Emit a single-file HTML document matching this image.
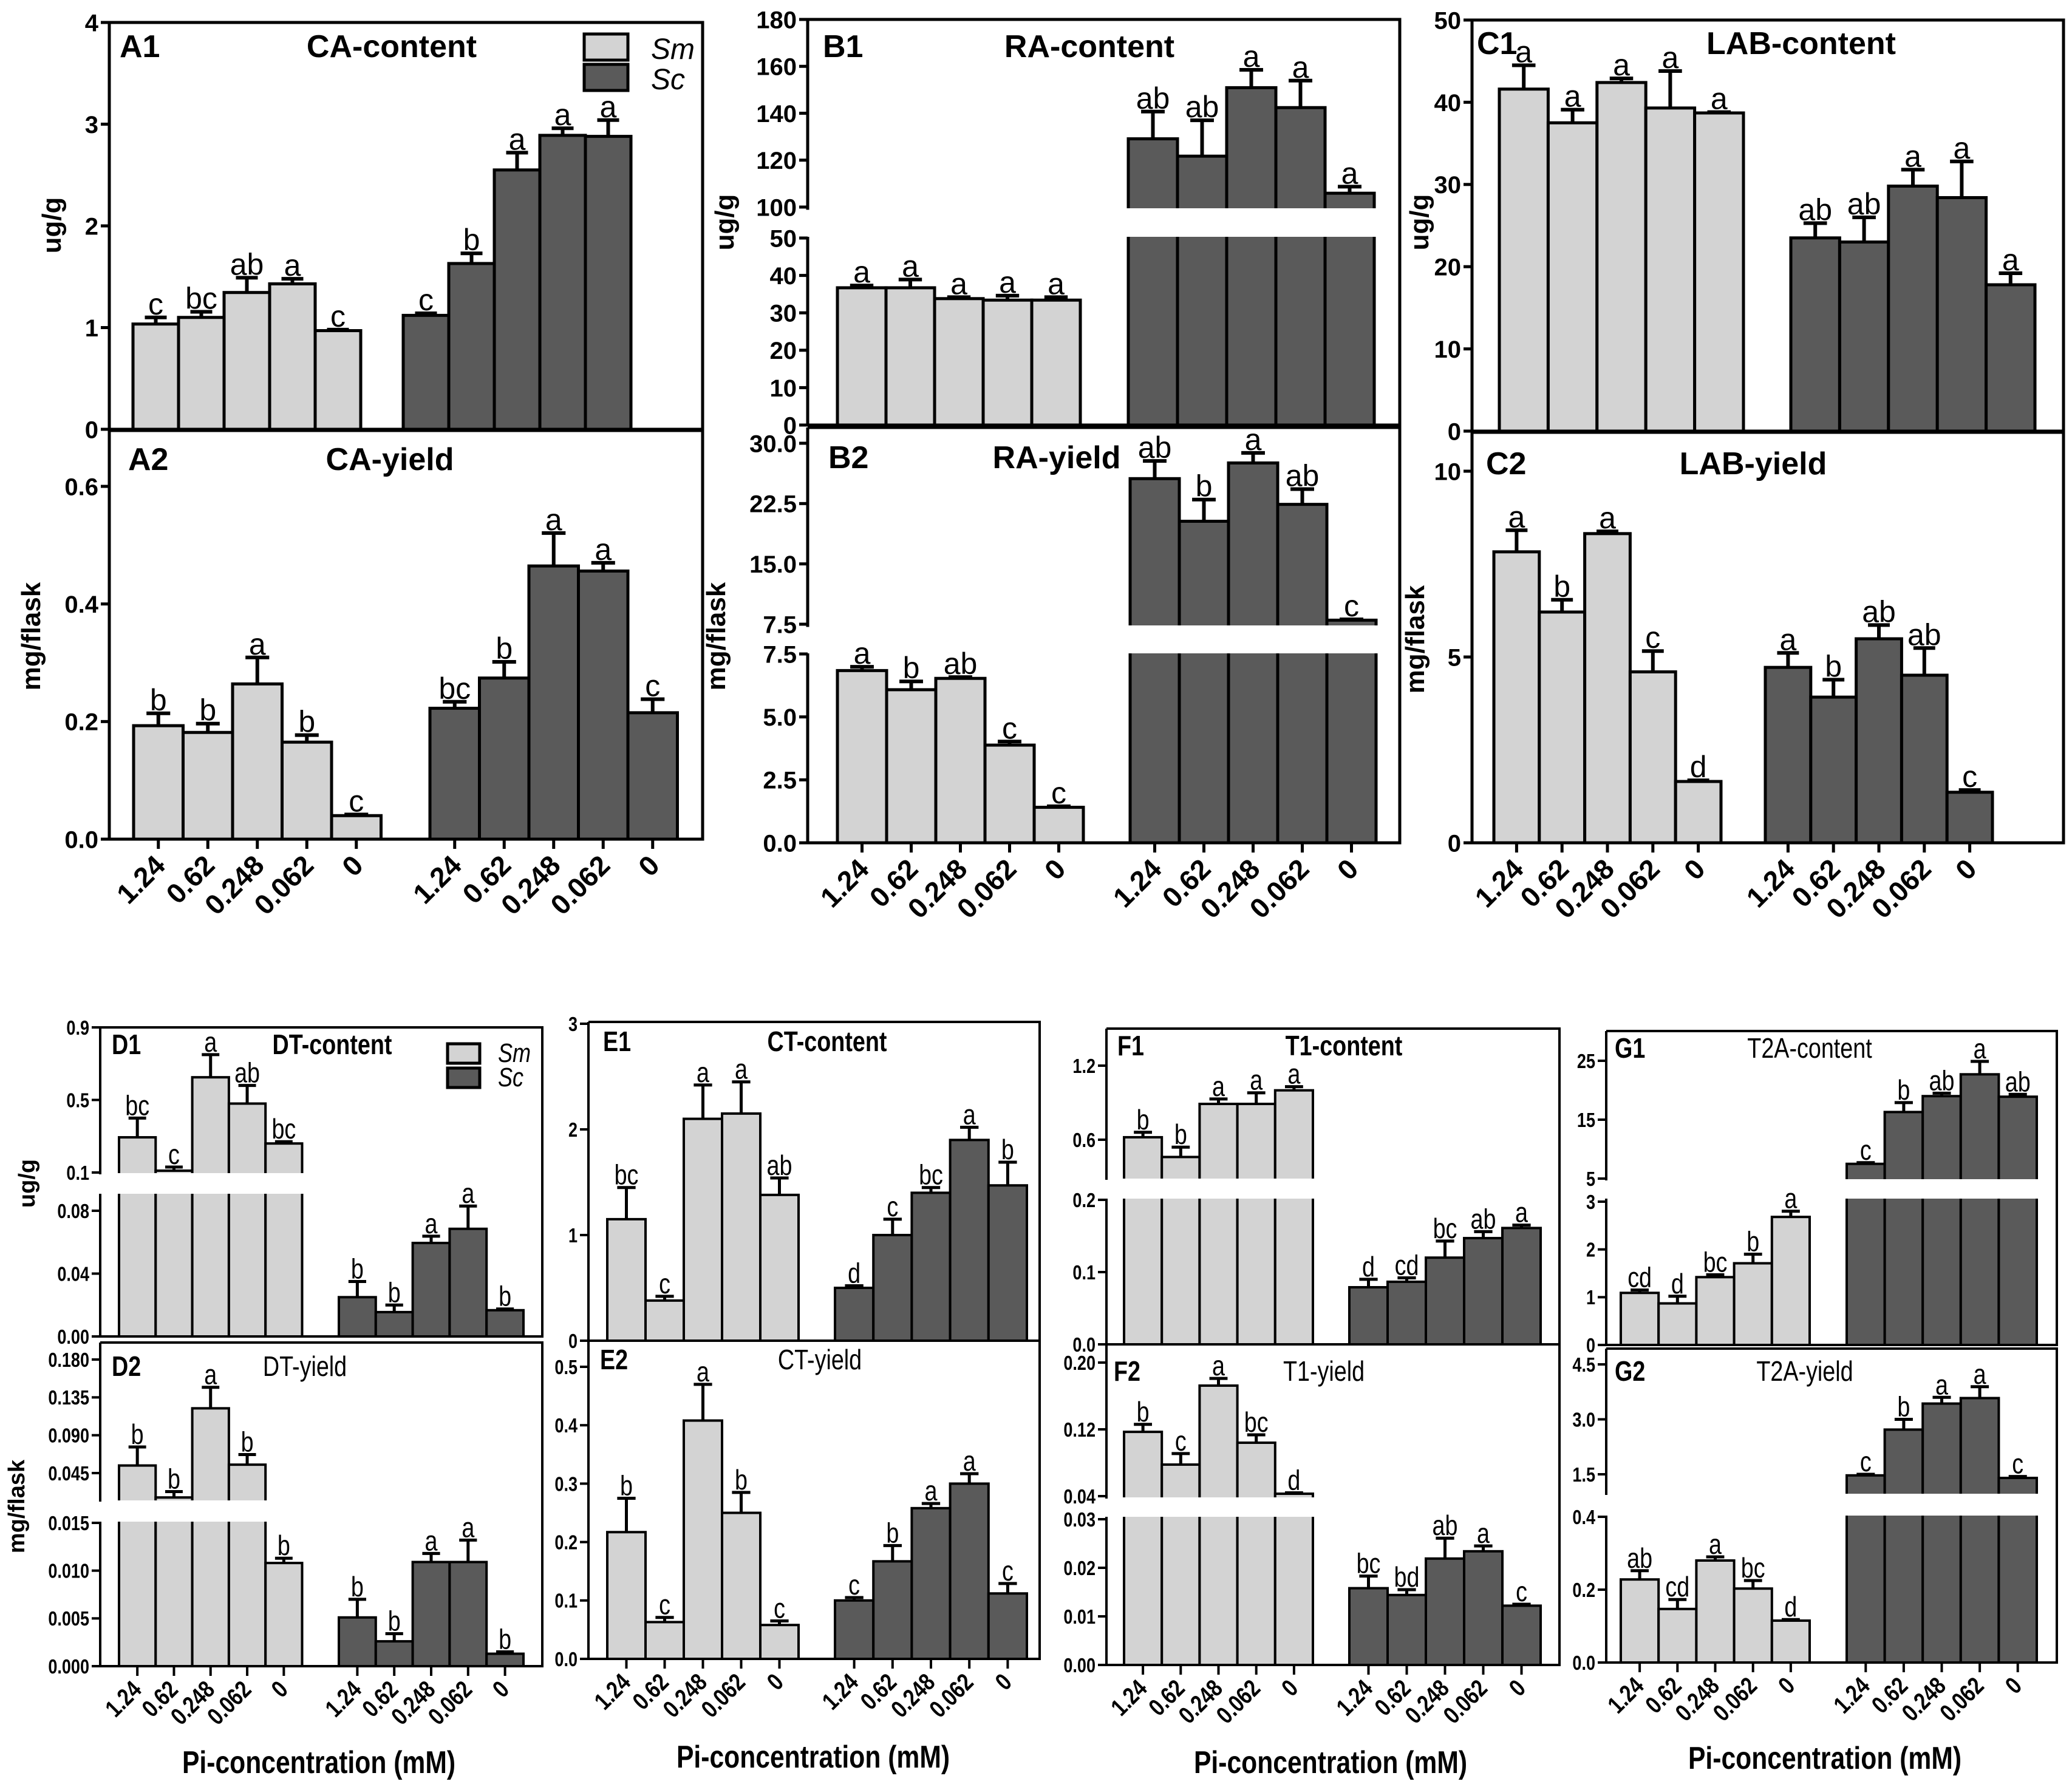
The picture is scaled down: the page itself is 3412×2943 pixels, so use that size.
<!DOCTYPE html>
<html><head><meta charset="utf-8"><style>html,body{margin:0;padding:0;background:#fff}svg{display:block}</style></head>
<body>
<svg id="fig" xmlns="http://www.w3.org/2000/svg" width="3412" height="2943" viewBox="0 0 3412 2943">
<rect x="0" y="0" width="3412" height="2943" fill="#fff"/>
</svg>
<script>
const categories = ["1.24","0.62","0.248","0.062","0"];
const A1_sm=[1.035,1.10,1.345,1.43,0.97], A1_smErr=[.065,.055,.145,.05,.01], A1_sc=[1.12,1.63,2.55,2.89,2.88], A1_scErr=[.02,.10,.17,.07,.16];
const A1_smL=["c","bc","ab","a","c"], A1_scL=["c","b","a","a","a"];
const A2_sm=[.193,.1815,.264,.165,.04], A2_smErr=[.021,.015,.045,.012,.002], A2_sc=[.2226,.274,.4646,.456,.215], A2_scErr=[.011,.0275,.056,.014,.023];
const A2_smL=["b","b","a","b","c"], A2_scL=["bc","b","a","a","c"];
const B1_sm=[36.7,36.7,33.8,33.4,33.4], B1_smErr=[.6,2.2,.4,1.2,.8], B1_sc=[129.1,121.7,150.9,142.4,105.9], B1_scErr=[11.6,15.3,7.6,11.5,2.8];
const B1_smL=["a","a","a","a","a"], B1_scL=["ab","ab","a","a","a"];
const B2_sm=[6.84,6.08,6.53,3.88,1.41], B2_smErr=[.15,.33,.05,.14,.04], B2_sc=[25.6,20.3,27.55,22.4,8.0], B2_scErr=[2.2,2.7,1.25,1.9,.1];
const B2_smL=["a","b","ab","c","c"], B2_scL=["ab","b","a","ab","c"];
const C1_sm=[41.6,37.5,42.4,39.3,38.7], C1_smErr=[2.9,1.6,.5,4.5,.1], C1_sc=[23.5,23,29.8,28.4,17.8], C1_scErr=[1.8,3,2,4.4,1.4];
const C1_smL=["a","a","a","a","a"], C1_scL=["ab","ab","a","a","a"];
const C2_sm=[7.83,6.21,8.32,4.6,1.65], C2_smErr=[.58,.33,.06,.56,.03], C2_sc=[4.72,3.92,5.49,4.51,1.36], C2_scErr=[.39,.47,.37,.73,.06];
const C2_smL=["a","b","a","c","d"], C2_scL=["a","b","ab","ab","c"];
const D1_sm=[.294,.11,.625,.48,.26], D1_smErr=[.106,.02,.125,.1,.01], D1_sc=[.025,.0155,.0595,.0685,.0167], D1_scErr=[.01,.0045,.0043,.0145,.0008];
const D1_smL=["bc","c","a","ab","bc"], D1_scL=["b","b","a","a","b"];
const D2_sm=[.054,.016,.122,.055,.0108], D2_smErr=[.022,.007,.025,.012,.0005], D2_sc=[.0051,.0026,.0109,.0109,.0013], D2_scErr=[.0019,.0008,.0009,.0023,.0002];
const D2_smL=["b","b","a","b","b"], D2_scL=["b","b","a","a","b"];
const E1_sm=[1.15,.38,2.1,2.15,1.38], E1_smErr=[.3,.04,.32,.3,.16], E1_sc=[.5,1,1.4,1.9,1.47], E1_scErr=[.02,.15,.05,.12,.22];
const E1_smL=["bc","c","a","a","ab"], E1_scL=["d","c","bc","a","b"];
const E2_sm=[.217,.063,.408,.25,.058], E2_smErr=[.058,.008,.062,.035,.007], E2_sc=[.1,.167,.258,.3,.112], E2_scErr=[.005,.027,.008,.017,.017];
const E2_smL=["b","c","a","b","c"], E2_scL=["c","b","a","a","c"];
const F1_sm=[.62,.46,.89,.89,1.0], F1_smErr=[.04,.08,.04,.09,.03], F1_sc=[.079,.0866,.12,.147,.161], F1_scErr=[.011,.0054,.023,.009,.004];
const F1_smL=["b","b","a","a","a"], F1_scL=["d","cd","bc","ab","a"];
const F2_sm=[.117,.0778,.1724,.104,.0429], F2_smErr=[.009,.0132,.0086,.0095,.0011], F2_sc=[.0158,.0144,.0219,.0234,.0122], F2_scErr=[.0025,.0011,.0042,.0011,.0003];
const F2_smL=["b","c","a","bc","d"], F2_scL=["bc","bd","ab","a","c"];
const G1_sm=[1.09,.87,1.42,1.71,2.68], G1_smErr=[.06,.15,.05,.19,.12], G1_sc=[7.5,16.3,19,22.7,18.9], G1_scErr=[.2,1.6,.5,2.2,.4];
const G1_smL=["cd","d","bc","b","a"], G1_scL=["c","b","ab","a","ab"];
const G2_sm=[.228,.147,.28,.203,.115], G2_smErr=[.024,.026,.01,.022,.003], G2_sc=[1.47,2.72,3.43,3.58,1.40], G2_scErr=[.03,.28,.17,.31,.04];
const G2_smL=["ab","cd","a","bc","d"], G2_scL=["c","b","a","a","c"];

const NS="http://www.w3.org/2000/svg";
const svg=document.getElementById('fig');
function mk(tag,attrs,parent){const e=document.createElementNS(NS,tag);for(const k in attrs)e.setAttribute(k,attrs[k]);(parent||svg).appendChild(e);return e;}
function txt(parent,s,x,y,size,opts){
  const sx=opts.sx||1, rot=opts.rot||0;
  const t=mk('text',{x:0,y:0,'font-size':size,'font-family':'"Liberation Sans", Arial, sans-serif','text-anchor':opts.anchor||'start','font-weight':opts.bold?'bold':'normal','font-style':opts.italic?'italic':'normal',fill:'#000',
    transform:'translate('+x+','+y+')'+(rot?' rotate('+rot+')':'')+' scale('+sx+',1)'},parent);
  t.textContent=s;return t;
}
function mapY(segs,v){
  let s=segs[0];
  if(segs.length>1){const s0=segs[0];const vtop=s0.v0+(s0.top-s0.y0)*(s0.v1-s0.v0)/(s0.y1-s0.y0);if(v>vtop)s=segs[1];}
  return s.y0+(v-s.v0)*(s.y1-s.y0)/(s.v1-s.v0);
}
function drawPanel(p){
  const g=mk('g',{});
  
  
  const lw=p.lw, sx=p.sx, f=p.fonts;
  const segs=p.segs;
  const series=[{vals:p.sm,err:p.smErr,lab:p.smL,x0:p.smX,w:p.smW,fill:'#d3d3d3',nm:'sm'},{vals:p.sc,err:p.scErr,lab:p.scL,x0:p.scX,w:p.scW,fill:'#5a5a5a',nm:'sc'}];
  series.forEach(s=>{
    s.vals.forEach((v,i)=>{
      const x=s.x0+i*s.w, y=mapY(segs,v);
      const r=mk('rect',{x:x,y:y,width:s.w,height:p.bot-y,fill:s.fill,stroke:'#000','stroke-width':lw},g);
      
      
    });
  });
  if(segs.length>1){
    const bb=mk('rect',{x:p.axisX+lw/2,y:segs[1].bot,width:p.right-p.axisX-lw,height:segs[0].top-segs[1].bot,fill:'#fff'},g);
    
    
  }
  series.forEach(s=>{
    s.vals.forEach((v,i)=>{
      const cx=s.x0+(i+0.5)*s.w, y=mapY(segs,v), ye=mapY(segs,v+s.err[i]);
      const eb=mk('path',{d:'M'+cx+' '+y+'V'+ye+'M'+(cx-s.w*0.24)+' '+ye+'H'+(cx+s.w*0.24),stroke:'#000','stroke-width':lw+1,fill:'none'},g);
      
      
      const lt=txt(g,s.lab[i],cx,ye-5,f.letter,{anchor:'middle',sx:sx});
      
      
    });
  });
  mk('path',{d:'M'+p.axisX+' '+p.top+'H'+p.right+'V'+p.bot+'H'+p.axisX,stroke:'#000','stroke-width':lw,fill:'none'},g);
  segs.forEach(s=>{
    mk('line',{x1:p.axisX,y1:s.bot+lw/2,x2:p.axisX,y2:s.top,stroke:'#000','stroke-width':lw},g);
    s.ticks.forEach((tv,k)=>{
      const y=mapY([s],tv);
      mk('line',{x1:p.axisX-14,y1:y,x2:p.axisX,y2:y,stroke:'#000','stroke-width':lw},g);
      const tl=txt(g,s.labels[k],p.axisX-18,y+f.tick*0.36,f.tick,{anchor:'end',bold:true,sx:sx});
      
      
    });
  });
  const idt=txt(g,p.id,p.idX,p.titleY,f.title,{bold:true,sx:sx});
  
  
  const tt=txt(g,p.title,p.titleX,p.titleY,f.title,{anchor:'middle',bold:p.titleBold,sx:sx});
  
  
  if(p.ylabel){
    const yl=txt(g,p.ylabel[0],p.ylabel[1],p.ylabel[2],f.ylab,{anchor:'middle',bold:true,rot:-90,sx:1});
    
    
  }
  if(p.xlabels){
    series.forEach(s=>{
      categories.forEach((c,i)=>{
        const cx=s.x0+(i+0.5)*s.w;
        mk('line',{x1:cx,y1:p.bot,x2:cx,y2:p.bot+16,stroke:'#000','stroke-width':lw},g);
        const xl=txt(g,c,cx+p.xo[0],p.bot+p.xo[1],f.xtick,{anchor:'end',bold:true,rot:-45,sx:sx});
        
        
      });
    });
  }
}
function lin(v0,y0,v1,y1,bot,top,ticks,labels){return {v0,y0,v1,y1,bot,top,ticks,labels};}
const TF={tick:40,letter:50,title:52,ylab:44,xtick:46};
const BF={tick:33,letter:46,title:46,ylab:38,xtick:40};
const top1={lw:5,sx:1,fonts:TF}, bot1={lw:4,sx:0.82,fonts:BF};
const panels=[
 Object.assign({id:'A1',title:'CA-content',titleBold:true,idX:197,titleX:645,titleY:94,axisX:180,right:1157,top:37,bot:707,smX:219,smW:75,scX:664,scW:75,
  sm:A1_sm,smErr:A1_smErr,sc:A1_sc,scErr:A1_scErr,smL:A1_smL,scL:A1_scL,ylabel:['ug/g',100,371],
  segs:[lin(0,707,4,37,707,37,[0,1,2,3,4],["0","1","2","3","4"])]},top1),
 Object.assign({id:'A2',title:'CA-yield',titleBold:true,idX:211,titleX:642,titleY:774,axisX:180,right:1157,top:709,bot:1382,smX:220,smW:81.5,scX:708,scW:81.5,
  sm:A2_sm,smErr:A2_smErr,sc:A2_sc,scErr:A2_scErr,smL:A2_smL,scL:A2_scL,ylabel:['mg/flask',66,1048],xlabels:true,xo:[14,46],
  segs:[lin(0,1382,.6,801,1382,709,[0,.2,.4,.6],["0.0","0.2","0.4","0.6"])]},top1),
 Object.assign({id:'B1',title:'RA-content',titleBold:true,idX:1355,titleX:1794,titleY:94,axisX:1330,right:2305,top:32,bot:700,smX:1379,smW:80,scX:1858,scW:81,
  sm:B1_sm,smErr:B1_smErr,sc:B1_sc,scErr:B1_scErr,smL:B1_smL,scL:B1_scL,ylabel:['ug/g',1208,366],
  segs:[lin(0,700,50,392,700,390,[0,10,20,30,40,50],["0","10","20","30","40","50"]),lin(100,341,180,32,343,32,[100,120,140,160,180],["100","120","140","160","180"])]},top1),
 Object.assign({id:'B2',title:'RA-yield',titleBold:true,idX:1364,titleX:1740,titleY:771,axisX:1330,right:2305,top:704,bot:1388,smX:1379,smW:81,scX:1861,scW:81,
  sm:B2_sm,smErr:B2_smErr,sc:B2_sc,scErr:B2_scErr,smL:B2_smL,scL:B2_scL,ylabel:['mg/flask',1194,1048],xlabels:true,xo:[14,46],
  segs:[lin(0,1388,7.5,1077,1388,1076,[0,2.5,5,7.5],["0.0","2.5","5.0","7.5"]),lin(7.5,1028,30,730,1030,704,[7.5,15,22.5,30],["7.5","15.0","22.5","30.0"])]},top1),
 Object.assign({id:'C1',title:'LAB-content',titleBold:true,idX:2432,titleX:2966,titleY:89,axisX:2424,right:3398,top:33,bot:710,smX:2469,smW:80.4,scX:2949,scW:80.4,
  sm:C1_sm,smErr:C1_smErr,sc:C1_sc,scErr:C1_scErr,smL:C1_smL,scL:C1_scL,ylabel:['ug/g',2352,366],
  segs:[lin(0,710,50,33,710,33,[0,10,20,30,40,50],["0","10","20","30","40","50"])]},top1),
 Object.assign({id:'C2',title:'LAB-yield',titleBold:true,idX:2447,titleX:2887,titleY:781,axisX:2424,right:3398,top:712,bot:1388,smX:2460,smW:74.8,scX:2907,scW:74.8,
  sm:C2_sm,smErr:C2_smErr,sc:C2_sc,scErr:C2_scErr,smL:C2_smL,scL:C2_scL,ylabel:['mg/flask',2345,1053],xlabels:true,xo:[14,46],
  segs:[lin(0,1388,10,776,1388,712,[0,5,10],["0","5","10"])]},top1),
 Object.assign({id:'D1',title:'DT-content',titleBold:true,idX:184,titleX:547,titleY:1736,axisX:165,right:893,top:1692,bot:2201,smX:196,smW:60.3,scX:558,scW:60.8,
  sm:D1_sm,smErr:D1_smErr,sc:D1_sc,scErr:D1_scErr,smL:D1_smL,scL:D1_scL,ylabel:['ug/g',57,1949],
  segs:[lin(0,2201,.08,1994,2201,1966,[0,.04,.08],["0.00","0.04","0.08"]),lin(.1,1931,.9,1692,1932,1692,[.1,.5,.9],["0.1","0.5","0.9"])]},bot1),
 Object.assign({id:'D2',title:'DT-yield',titleBold:false,idX:184,titleX:502,titleY:2266,axisX:165,right:893,top:2211,bot:2744,smX:196,smW:60.3,scX:558,scW:60.8,
  sm:D2_sm,smErr:D2_smErr,sc:D2_sc,scErr:D2_scErr,smL:D2_smL,scL:D2_scL,ylabel:['mg/flask',40,2481],xlabels:true,xo:[9,41],
  segs:[lin(0,2744,.015,2508,2744,2506,[0,.005,.01,.015],["0.000","0.005","0.010","0.015"]),lin(.045,2426,.18,2239,2471,2211,[.045,.09,.135,.18],["0.045","0.090","0.135","0.180"])]},bot1),
 Object.assign({id:'E1',title:'CT-content',titleBold:true,idX:993,titleX:1362,titleY:1731,axisX:969,right:1712,top:1683,bot:2208,smX:1000,smW:63,scX:1375,scW:63.2,
  sm:E1_sm,smErr:E1_smErr,sc:E1_sc,scErr:E1_scErr,smL:E1_smL,scL:E1_scL,
  segs:[lin(0,2208,3,1686,2208,1683,[0,1,2,3],["0","1","2","3"])]},bot1),
 Object.assign({id:'E2',title:'CT-yield',titleBold:false,idX:988,titleX:1350,titleY:2255,axisX:969,right:1712,top:2208,bot:2732,smX:1000,smW:63,scX:1375,scW:63.2,
  sm:E2_sm,smErr:E2_smErr,sc:E2_sc,scErr:E2_scErr,smL:E2_smL,scL:E2_scL,xlabels:true,xo:[9,41],
  segs:[lin(0,2732,.5,2251,2732,2208,[0,.1,.2,.3,.4,.5],["0.0","0.1","0.2","0.3","0.4","0.5"])]},bot1),
 Object.assign({id:'F1',title:'T1-content',titleBold:true,idX:1840,titleX:2213,titleY:1738,axisX:1822,right:2568,top:1694,bot:2214,smX:1851,smW:62.2,scX:2222,scW:63,
  sm:F1_sm,smErr:F1_smErr,sc:F1_sc,scErr:F1_scErr,smL:F1_smL,scL:F1_scL,
  segs:[lin(0,2214,.2,1976,2214,1974,[0,.1,.2],["0.0","0.1","0.2"]),lin(.6,1877,1.2,1755,1941,1694,[.6,1.2],["0.6","1.2"])]},bot1),
 Object.assign({id:'F2',title:'T1-yield',titleBold:false,idX:1834,titleX:2180,titleY:2274,axisX:1822,right:2568,top:2214,bot:2742,smX:1851,smW:62.2,scX:2222,scW:63,
  sm:F2_sm,smErr:F2_smErr,sc:F2_sc,scErr:F2_scErr,smL:F2_smL,scL:F2_scL,xlabels:true,xo:[9,41],
  segs:[lin(0,2742,.03,2502,2742,2498,[0,.01,.02,.03],["0.00","0.01","0.02","0.03"]),lin(.04,2464,.2,2244,2466,2214,[.04,.12,.2],["0.04","0.12","0.20"])]},bot1),
 Object.assign({id:'G1',title:'T2A-content',titleBold:false,idX:2659,titleX:2980,titleY:1742,axisX:2645,right:3387,top:1698,bot:2215,smX:2669,smW:62.2,scX:3041,scW:62.6,
  sm:G1_sm,smErr:G1_smErr,sc:G1_sc,scErr:G1_scErr,smL:G1_smL,scL:G1_scL,
  segs:[lin(0,2215,3,1979,2215,1974,[0,1,2,3],["0","1","2","3"]),lin(5,1941,25,1747,1942,1698,[5,15,25],["5","15","25"])]},bot1),
 Object.assign({id:'G2',title:'T2A-yield',titleBold:false,idX:2659,titleX:2972,titleY:2274,axisX:2645,right:3387,top:2221,bot:2738,smX:2669,smW:62.2,scX:3041,scW:62.6,
  sm:G2_sm,smErr:G2_smErr,sc:G2_sc,scErr:G2_scErr,smL:G2_smL,scL:G2_scL,xlabels:true,xo:[9,41],
  segs:[lin(0,2738,.4,2498,2738,2496,[0,.2,.4],["0.0","0.2","0.4"]),lin(1.5,2428,4.5,2247,2460,2221,[1.5,3,4.5],["1.5","3.0","4.5"])]},bot1)
];
panels.forEach(drawPanel);

function legend(x,y1,y2,w,h,tx,size,sx){
  const g=mk('g',{});
  
  
  mk('rect',{x:x,y:y1,width:w,height:h,fill:'#d3d3d3',stroke:'#000','stroke-width':5},g);
  mk('rect',{x:x,y:y2,width:w,height:h,fill:'#5a5a5a',stroke:'#000','stroke-width':5},g);
  const a=txt(g,'Sm',tx,y1+h-2,size,{italic:true,sx:sx});
  
  
  const b=txt(g,'Sc',tx,y2+h-2,size,{italic:true,sx:sx});
  
  
}
legend(962,56,106,72,43,1072,48,1);
legend(737,1719,1759,53,32,820,44,0.82);

[[525,2920],[1339,2911],[2191,2920],[3005,2913]].forEach(p=>{
  const t=txt(svg,'Pi-concentration (mM)',p[0],p[1],52,{anchor:'middle',bold:true,sx:0.82});
  
  
});
</script>
</body></html>
